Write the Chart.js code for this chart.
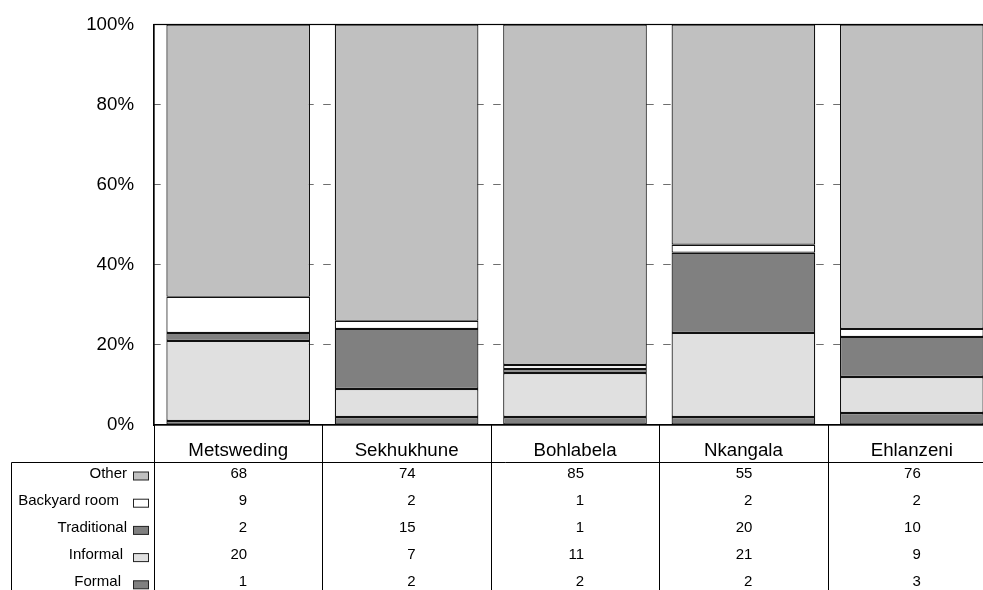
<!DOCTYPE html>
<html>
<head>
<meta charset="utf-8">
<title>Dwelling type by district</title>
<script src="https://cdn.jsdelivr.net/npm/chart.js@4/dist/chart.umd.min.js"></script>
<style>
  html, body { margin: 0; padding: 0; background: #fff; overflow: hidden; }
  #wrap { width: 1000px; height: 590px; }
</style>
</head>
<body>
<div id="wrap"><canvas id="c" width="1000" height="590"></canvas></div>
<script>
// Districts along the x axis
const categories = ['Metsweding', 'Sekhukhune', 'Bohlabela', 'Nkangala', 'Ehlanzeni'];

// Share of households (%) by type of main dwelling
const formal      = [1, 2, 2, 2, 3];
const informal    = [20, 7, 11, 21, 9];
const traditional = [2, 15, 1, 20, 10];
const backyard    = [9, 2, 1, 2, 2];
const other       = [68, 74, 85, 55, 76];

// Percentage ticks on the value axis
const yTicks = [0, 20, 40, 60, 80, 100];

const FONT = "'Liberation Sans', Arial, sans-serif";

// Stacking order from the bottom up
const series = [
  { label: 'Formal',        data: formal,      color: '#808080' },
  { label: 'Informal',      data: informal,    color: '#e0e0e0' },
  { label: 'Traditional',   data: traditional, color: '#808080' },
  { label: 'Backyard room', data: backyard,    color: '#ffffff' },
  { label: 'Other',         data: other,       color: '#c0c0c0' }
];

// Right edge of each row label in the table key column
const labelEnd = { 'Other': 127, 'Backyard room': 119, 'Traditional': 127, 'Informal': 123, 'Formal': 121 };

// Frame round the plot plus the data table under it
const dataTable = {
  id: 'dataTable',
  afterDraw(chart) {
    const { ctx, chartArea: a, scales: { x } } = chart;
    const H = chart.height;
    const half = (x.getPixelForValue(1) - x.getPixelForValue(0)) / 2;
    const headerBottom = 462.5;
    const tableLeft = 11.5;
    const firstRow = 473.5;
    const rowH = 27.2;

    ctx.save();
    // plot frame
    ctx.strokeStyle = '#000';
    ctx.lineWidth = 1.2;
    ctx.strokeRect(a.left, a.top, a.right - a.left, a.bottom - a.top);

    // table grid
    ctx.lineWidth = 1;
    ctx.strokeStyle = '#000';
    ctx.beginPath();
    for (let i = 0; i <= categories.length; i++) {
      const px = Math.round(x.getPixelForValue(i) - half) + 0.5;
      ctx.moveTo(px, a.bottom);
      ctx.lineTo(px, H);
    }
    ctx.moveTo(tableLeft, headerBottom);
    ctx.lineTo(chart.width, headerBottom);
    ctx.moveTo(tableLeft, headerBottom);
    ctx.lineTo(tableLeft, H);
    ctx.stroke();

    // rows: top row is the top of the stack
    const rows = series.slice().reverse();
    ctx.font = '15px ' + FONT;
    ctx.textBaseline = 'middle';
    rows.forEach((s, r) => {
      const cy = firstRow + rowH * r;
      // row label
      ctx.fillStyle = '#000';
      ctx.textAlign = 'right';
      ctx.fillText(s.label, labelEnd[s.label], cy);
      // key swatch
      ctx.fillStyle = s.color;
      ctx.fillRect(133.5, cy - 1.5, 15, 8);
      ctx.strokeStyle = '#222';
      ctx.lineWidth = 1;
      ctx.strokeRect(133.5, cy - 1.5, 15, 8);
      // values
      ctx.fillStyle = '#000';
      ctx.textAlign = 'right';
      s.data.forEach((v, i) => {
        ctx.fillText(String(v), x.getPixelForValue(i) + 9, cy);
      });
    });
    ctx.restore();
  }
};

new Chart(document.getElementById('c'), {
  type: 'bar',
  data: {
    labels: categories,
    datasets: series.map(s => ({
      label: s.label,
      data: s.data,
      backgroundColor: s.color,
      borderColor: '#111',
      borderWidth: 1.2,
      borderSkipped: false,
      barPercentage: 0.853,
      categoryPercentage: 1
    }))
  },
  options: {
    responsive: false,
    animation: false,
    layout: { padding: { left: 0, top: 24.5, right: 4, bottom: 0 } },
    plugins: {
      legend: { display: false },
      tooltip: { enabled: false }
    },
    scales: {
      x: {
        stacked: true,
        grid: { display: false },
        border: { display: true, color: '#000', width: 1.2 },
        ticks: { color: '#000', font: { family: FONT, size: 18.7 }, padding: 7, maxRotation: 0 },
        afterFit(scale) { scale.height = 165; }
      },
      y: {
        stacked: true,
        min: 0,
        max: 100,
        afterBuildTicks(scale) { scale.ticks = yTicks.map(v => ({ value: v })); },
        grid: {
          // the frame already marks 0% and 100%
          color: c => (c.tick && (c.tick.value === 0 || c.tick.value === 100)) ? 'rgba(0,0,0,0)' : '#6e6e6e',
          lineWidth: 1,
          drawTicks: false
        },
        border: { display: true, color: '#000', width: 1.2, dash: [7.5, 9.5], dashOffset: 1 },
        ticks: {
          color: '#000',
          font: { family: FONT, size: 18.7 },
          padding: 20,
          callback: v => v + '%'
        },
        afterFit(scale) {
          scale.width = 154;
          scale.paddingTop = 0;
          scale.paddingBottom = 0;
        }
      }
    }
  },
  plugins: [dataTable]
});
</script>
</body>
</html>
